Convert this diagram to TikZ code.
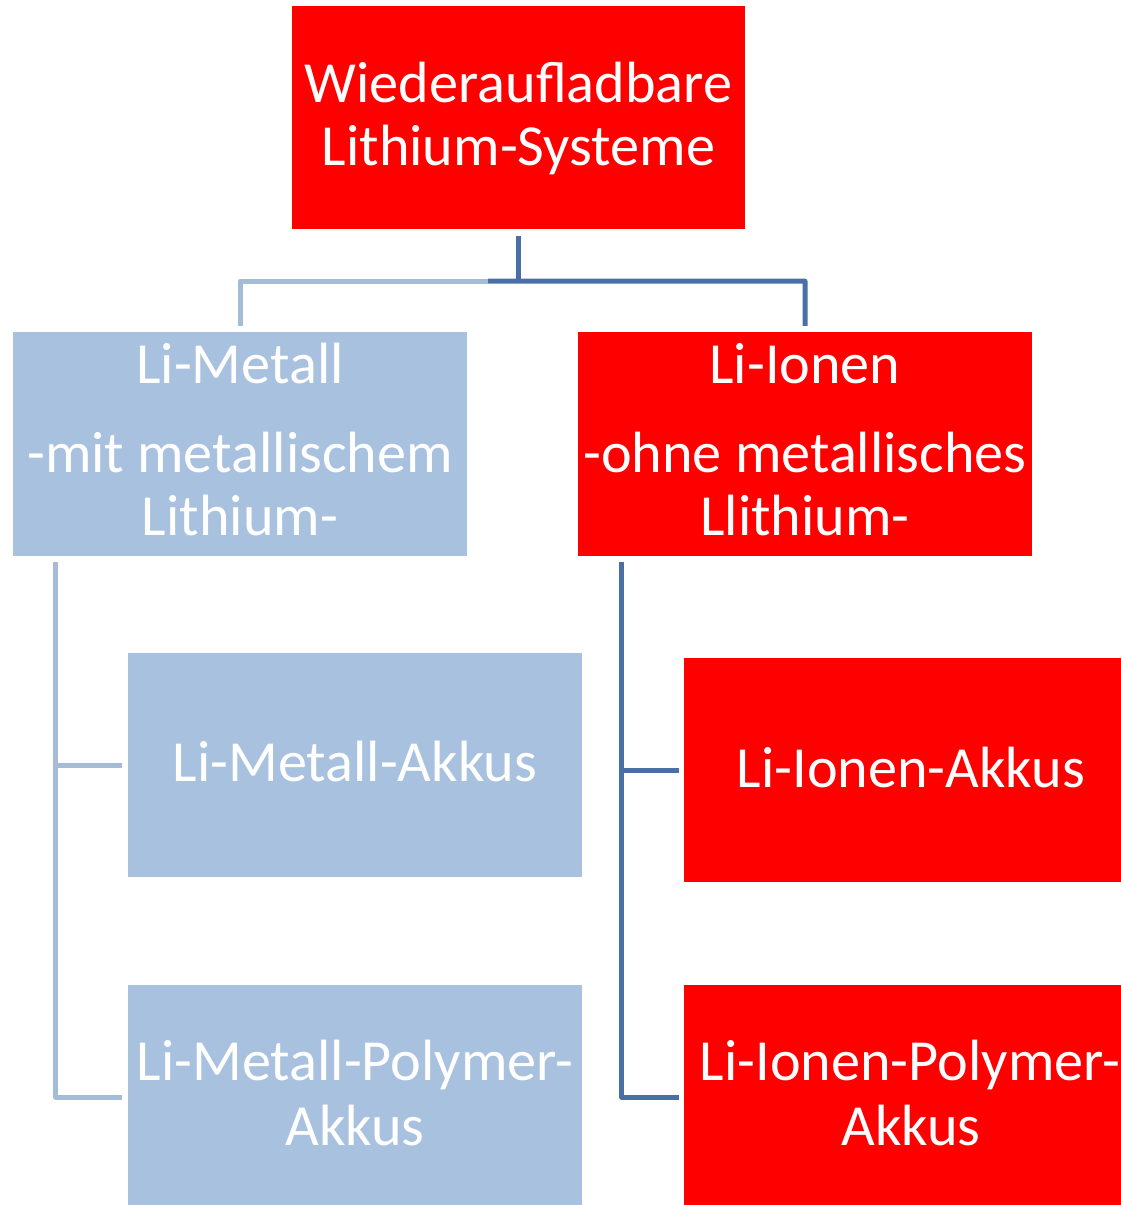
\documentclass[tikz,border=0pt]{standalone}
\usepackage{fontspec}
\setmainfont{Carlito}
\usetikzlibrary{calc}
\definecolor{boxred}{HTML}{FF0000}
\definecolor{boxblue}{HTML}{A8C1DF}
\definecolor{linelight}{HTML}{A5BCD9}
\definecolor{linedark}{HTML}{4A6EA6}
\tikzset{
  redbox/.style={rectangle, fill=boxred, draw=none, minimum width=454pt, minimum height=224pt, inner sep=0pt},
  bluebox/.style={rectangle, fill=boxblue, draw=none, minimum width=454pt, minimum height=224pt, inner sep=0pt},
  label/.style={anchor=base, text=white, inner sep=0pt, font=\fontsize{58.2}{65}\selectfont},
  lightline/.style={draw=linelight, line width=5pt, line join=round},
  darkline/.style={draw=linedark, line width=5pt, line join=round},
}
\begin{document}
\begin{tikzpicture}[x=1pt, y=-1pt]
\useasboundingbox (0,0) rectangle (1121,1205);

% boxes
\node[redbox, minimum width=453pt, minimum height=223pt] (top) at (518.5,117.5) {};
\node[bluebox] (lm) at (240,444) {};
\node[redbox] (li) at (805,444) {};
\node[bluebox] (lma) at (355,765) {};
\node[redbox] (lia) at (911,770) {};
\node[bluebox] (lmp) at (355,1097) {};
\node[redbox] (lip) at (911,1097) {};

% texts
\node[label] (t1) at (518.5,102) {Wiederaufladbare};
\node[label] (t2) at (518.5,165) {Lithium-Systeme};
\node[label] (m1) at (240,383) {Li-Metall};
\node[label] (m2) at (240,472) {-mit metallischem};
\node[label] (m3) at (240,535) {Lithium-};
\node[label] (i1) at (805,383) {Li-Ionen};
\node[label] (i2) at (805,472) {-ohne metallisches};
\node[label] (i3) at (805,535) {Llithium-};
\node[label] (ma) at (355,781) {Li-Metall-Akkus};
\node[label] (ia) at (911,787) {Li-Ionen-Akkus};
\node[label] (mp1) at (355,1080) {Li-Metall-Polymer-};
\node[label] (mp2) at (355,1145) {Akkus};
\node[label] (ip1) at (910,1080) {Li-Ionen-Polymer-};
\node[label] (ip2) at (911,1145) {Akkus};

% connector points
\coordinate (topstem) at ($(top.south)+(0,7)$);
\coordinate (bar) at ($(top.south)+(0,52)$);
\coordinate (split) at (488,281);

% top level connectors
\draw[lightline] ($(lm.north)+(0,-6)$) |- (split);
\draw[darkline] (split) -- (bar -| li.north) -- ($(li.north)+(0,-6)$);
\draw[darkline] (topstem) -- (bar);

% left branch
\coordinate (ltop) at ($(lm.south west)+(43,6)$);
\draw[lightline] (ltop) |- ($(lmp.west)+(-6,0)$);
\draw[lightline] (ltop |- lma.west) -- ($(lma.west)+(-6,0)$);

% right branch
\coordinate (rtop) at ($(li.south west)+(44,6)$);
\draw[darkline] (rtop) |- ($(lip.west)+(-5,0)$);
\draw[darkline] (rtop |- lia.west) -- ($(lia.west)+(-5,0)$);
\end{tikzpicture}
\end{document}
